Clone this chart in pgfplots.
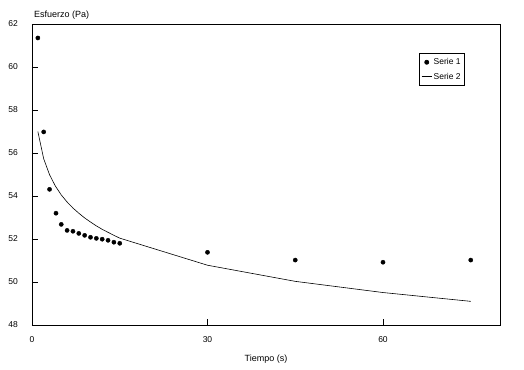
\documentclass[border=0pt]{standalone}
\usepackage{fontspec}
\setmainfont{Liberation Sans}
\usepackage{pgfplots}
\pgfplotsset{compat=1.18}
\begin{document}
\fontsize{9}{10}\selectfont
\begin{tikzpicture}
\path[use as bounding box] (0,0) rectangle (524pt,369pt);
\begin{axis}[
  at={(32pt,44pt)}, anchor=south west,
  scale only axis, width=468pt, height=301pt,
  xmin=0, xmax=80, ymin=48, ymax=62,
  xtick={0,30,60}, ytick={48,50,...,62},
  tick align=inside, xtick pos=bottom, ytick pos=left,
  major tick length=6pt,
  axis line style={line width=0.7pt},
  every tick/.style={line width=0.7pt, black},
  /pgf/number format/assume math mode=true,
  ticklabel style={font=\fontsize{8.5}{9}\selectfont},
  yticklabel style={xshift=-11pt},
  xticklabel style={yshift=-8pt},
  xlabel={Tiempo (s)},
  xlabel style={at={(rel axis cs:0.5,0)}, anchor=north, yshift=-27pt, font=\fontsize{9}{10}\selectfont},
  ylabel={Esfuerzo (Pa)},
  ylabel style={at={(rel axis cs:0,1)}, rotate=-90, anchor=south west, yshift=1pt, xshift=-1pt, font=\fontsize{9}{10}\selectfont},
  legend style={at={(rel axis cs:0.827,0.903)}, anchor=north west, draw=black, line width=0.6pt,
    font=\fontsize{8.5}{9}\selectfont, inner xsep=2pt, inner ysep=3.5pt, row sep=4pt,
    nodes={inner sep=1.5pt}},
  legend image code/.code={\draw[mark repeat=2,mark phase=2,#1] plot coordinates {(0cm,0cm) (0.18cm,0cm) (0.36cm,0cm)};},
  legend cell align=left,
]
\addplot[only marks, mark=*, mark size=2.1pt, black] coordinates {
(1,61.35) (2,56.98) (3,54.31) (4.1,53.2) (5,52.68) (6,52.4) (7,52.36) (8,52.26)
(9,52.17) (10,52.08) (11,52.03) (12,51.99) (13,51.94) (14,51.85) (15,51.80)
(30,51.38) (45,51.02) (60,50.92) (75,51.02)
};
\addlegendentry{Serie 1}
\addplot[black, line width=0.6pt, mark=none] coordinates {
(1,57.00) (2,55.73) (3,54.99) (4,54.46) (5,54.05) (6,53.72) (7,53.44) (8,53.20)
(9,52.98) (10,52.79) (11,52.61) (12,52.45) (13,52.31) (14,52.17) (15,52.04)
(30,50.78) (45,50.03) (60,49.51) (75,49.10)
};
\addlegendentry{Serie 2}
\end{axis}
\end{tikzpicture}
\end{document}
